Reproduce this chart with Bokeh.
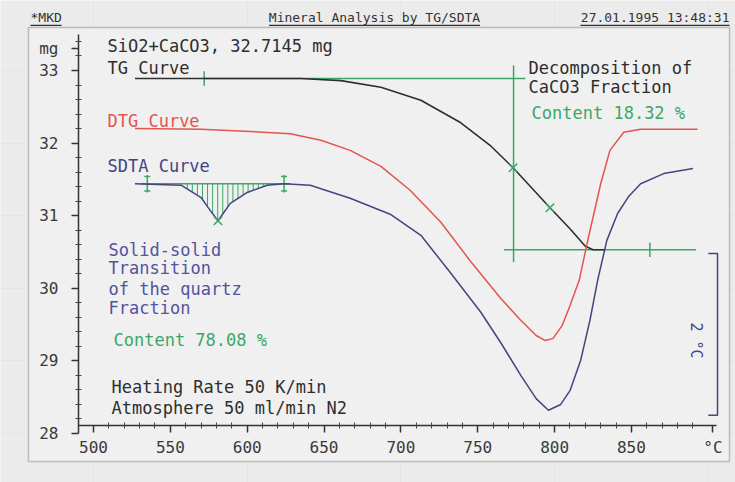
import numpy as np
from bokeh.plotting import figure
from bokeh.models import LinearAxis, FixedTicker, Label, BoxAnnotation, Range1d
from bokeh.embed import file_html
from bokeh.resources import INLINE

# ---------------- data ----------------
# TG curve (mg) vs temperature (degC)
tg_T = [527, 635, 661, 687, 713, 739, 758, 773, 797, 810, 820, 825, 833]
tg_mg = [32.89, 32.89, 32.86, 32.77, 32.59, 32.28, 31.97, 31.66, 31.11, 30.82, 30.58, 30.53, 30.53]

# DTG curve (drawn on the mg scale)
dtg_T = [527, 570, 602, 628, 648, 667, 687, 706, 726, 745, 765, 778, 788, 794,
         799, 805, 810, 816, 822, 830, 836, 845, 856, 893]
dtg_v = [32.20, 32.19, 32.16, 32.13, 32.04, 31.90, 31.68, 31.35, 30.91, 30.38, 29.86, 29.56, 29.35, 29.28,
         29.31, 29.49, 29.76, 30.11, 30.70, 31.44, 31.90, 32.15, 32.19, 32.19]

# SDTA curve (drawn on the mg scale)
sdta_T = [527, 557, 570, 576, 581, 589, 600, 613, 624, 641, 667, 693, 713, 732, 752,
          765, 778, 788, 796, 804, 810, 817, 823, 828, 834, 841, 848, 856, 871, 890]
sdta_v = [31.44, 31.42, 31.25, 31.07, 30.93, 31.17, 31.32, 31.42, 31.44, 31.42, 31.24, 31.02, 30.73, 30.22, 29.67,
          29.25, 28.80, 28.48, 28.32, 28.40, 28.59, 29.01, 29.56, 30.11, 30.66, 31.03, 31.26, 31.44, 31.58, 31.65]

# evaluation constructions
tg_start_level = 32.89
tg_start_span = [572, 781]
tg_end_level = 30.53
tg_end_span = [767, 892]
tg_onset_T = 773.3
tg_onset_span = [33.07, 30.36]
tg_marks_T = [773, 797]
tg_marks_mg = [31.66, 31.11]
tg_tick_T = [572, 862]

sdta_base_level = 31.44
sdta_base_span = [531, 628]
sdta_limits_T = [535, 624]
sdta_peak_T = [581]
sdta_peak_v = [30.93]
hatch_span = [561, 616]

scale_bar_T = [900, 906]
scale_bar_span = [28.25, 30.48]

x_ticks = [500, 550, 600, 650, 700, 750, 800, 850]
x_unit_tick = 903
y_ticks = [28, 29, 30, 31, 32, 33]
y_unit_tick = 33.3

# ---------------- styles ----------------
FONT = "DejaVu Sans Mono"
BLACK = "#2e2e2e"
RED = "#e2554f"
BLUE = "#45457e"
PURPLE = "#5552a0"
GREEN = "#3aa865"

p = figure(width=735, height=482, x_range=Range1d(439.49, 917.70), y_range=Range1d(27.325, 33.964),
           output_backend="svg", toolbar_location=None, x_axis_location=None, y_axis_location=None,
           min_border=0)
p.outline_line_color = None
p.background_fill_color = "#ebebeb"
p.border_fill_color = "#ebebeb"

# outer frame
p.add_layout(BoxAnnotation(left=457.7, right=913.8, bottom=27.614, top=33.592,
                           fill_color="#f0f0f0", fill_alpha=1.0, line_color="#4a4a4a",
                           line_width=1.5, level="underlay"))

# axes pinned inside the frame
x_minor = [t for t in range(500, 900, 10) if t not in x_ticks]
xaxis = LinearAxis(fixed_location=28.11, bounds=(490.2, 905.5),
                   ticker=FixedTicker(ticks=x_ticks + [x_unit_tick], minor_ticks=x_minor),
                   major_label_overrides={x_unit_tick: "°C"})
y_minor = [round(28 + 0.2 * i, 2) for i in range(0, 28) if (i % 5) != 0]
yaxis = LinearAxis(fixed_location=490.2, bounds=(28, 33.5),
                   ticker=FixedTicker(ticks=y_ticks + [y_unit_tick], minor_ticks=y_minor),
                   major_label_overrides={y_unit_tick: "mg"})
for ax in (xaxis, yaxis):
    ax.axis_line_color = "#333333"
    ax.axis_line_width = 1.5
    ax.major_tick_line_color = "#333333"
    ax.major_tick_line_width = 1.5
    ax.minor_tick_line_color = "#444444"
    ax.major_tick_in = 0
    ax.major_tick_out = 7
    ax.minor_tick_in = 3
    ax.minor_tick_out = 3
    ax.major_label_text_font = FONT
    ax.major_label_text_font_size = "16px"
    ax.major_label_text_color = "#3a3a3a"
xaxis.major_label_standoff = 5
yaxis.major_label_standoff = 13
p.add_layout(xaxis, "below")
p.add_layout(yaxis, "left")

# green constructions (TG)
p.line(tg_start_span, [tg_start_level] * 2, line_color=GREEN, line_width=1.5)
p.line(tg_end_span, [tg_end_level] * 2, line_color=GREEN, line_width=1.5)
p.line([tg_onset_T] * 2, tg_onset_span, line_color=GREEN, line_width=1.5)
p.segment(x0=tg_tick_T, x1=tg_tick_T, y0=[tg_start_level + 0.1, tg_end_level + 0.1],
          y1=[tg_start_level - 0.1, tg_end_level - 0.1], line_color=GREEN, line_width=1.5)

# green constructions (SDTA)
p.line(sdta_base_span, [sdta_base_level] * 2, line_color=GREEN, line_width=1.5)
hatch_T = np.arange(hatch_span[0], hatch_span[1], 3.3)
hatch_v = np.interp(hatch_T, sdta_T, sdta_v)
p.segment(x0=hatch_T, x1=hatch_T, y0=[sdta_base_level] * len(hatch_T), y1=hatch_v,
          line_color=GREEN, line_width=1)
p.segment(x0=sdta_limits_T, x1=sdta_limits_T, y0=[sdta_base_level + 0.12] * 2,
          y1=[sdta_base_level - 0.12] * 2, line_color=GREEN, line_width=1.5)
p.scatter(sdta_limits_T * 2, [sdta_base_level + 0.1] * 2 + [sdta_base_level - 0.1] * 2,
          marker="dash", size=6, line_color=GREEN, line_width=1.5)

# curves
p.line(tg_T, tg_mg, line_color=BLACK, line_width=1.6)
p.line(dtg_T, dtg_v, line_color=RED, line_width=1.5)
p.line(sdta_T, sdta_v, line_color=BLUE, line_width=1.5)

# markers
p.scatter(tg_marks_T, tg_marks_mg, marker="x", size=12, line_color=GREEN, line_width=1.5)
p.scatter(sdta_peak_T, sdta_peak_v, marker="x", size=12, line_color=GREEN, line_width=1.5)

# temperature scale bar
p.line([scale_bar_T[0], scale_bar_T[1], scale_bar_T[1], scale_bar_T[0]],
       [scale_bar_span[1], scale_bar_span[1], scale_bar_span[0], scale_bar_span[0]],
       line_color=BLUE, line_width=1.5)

# header
hdr = dict(text_font=FONT, text_font_size="13px", text_color="#333333", text_baseline="middle")
p.add_layout(Label(x=459.0, y=33.730, text="*MKD", text_align="left", **hdr))
p.add_layout(Label(x=682.8, y=33.730, text="Mineral Analysis by TG/SDTA", text_align="center", **hdr))
p.add_layout(Label(x=913.8, y=33.730, text="27.01.1995 13:48:31", text_align="right", **hdr))
p.segment(x0=[459.0, 614.2, 816.8], x1=[479.2, 751.5, 913.8], y0=[33.62] * 3, y1=[33.62] * 3,
          line_color="#333333", line_width=1.2)

# annotation texts
def txt(x, y, s, color, size="17px", **kw):
    p.add_layout(Label(x=x, y=y, text=s, text_font=FONT, text_font_size=size, text_color=color,
                       text_baseline="middle", text_align=kw.pop("align", "left"), **kw))

txt(509.1, 33.344, "SiO2+CaCO3, 32.7145 mg", BLACK)
txt(509.1, 33.028, "TG Curve", BLACK)
txt(509.1, 32.298, "DTG Curve", RED)
txt(509.1, 31.678, "SDTA Curve", BLUE)
txt(509.8, 30.521, "Solid-solid", PURPLE)
txt(509.8, 30.273, "Transition", PURPLE)
txt(509.8, 29.997, "of the quartz", PURPLE)
txt(509.8, 29.722, "Fraction", PURPLE)
txt(513.0, 29.281, "Content 78.08 %", GREEN)
txt(511.7, 28.634, "Heating Rate  50 K/min", BLACK)
txt(511.7, 28.358, "Atmosphere 50 ml/min N2", BLACK)
txt(783.0, 33.041, "Decomposition of", BLACK)
txt(783.0, 32.766, "CaCO3 Fraction", BLACK)
txt(785.0, 32.421, "Content 18.32 %", GREEN)
txt(891.7, 29.281, "2 °C", BLUE, size="15px", align="center", angle=-np.pi / 2)

open("out.html", "w").write(file_html(p, INLINE))
